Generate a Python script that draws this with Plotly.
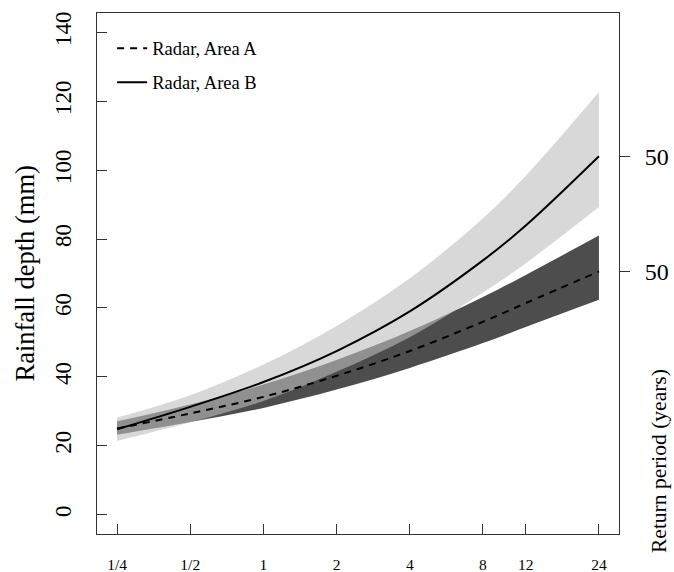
import math
import plotly.graph_objects as go

# ---- data ----
durations = [0.25, 0.5, 1, 2, 4, 8, 12, 24]
duration_labels = ["1/4", "1/2", "1", "2", "4", "8", "12", "24"]

# Radar, Area A (dashed line, dark band)
area_a_mid = [25.0, 29.4, 34.2, 40.3, 47.5, 56.0, 61.4, 70.6]
area_a_upper = [27.1, 32.0, 37.8, 44.9, 53.3, 63.2, 69.6, 81.0]
area_a_lower = [23.2, 26.9, 31.0, 36.3, 42.6, 49.8, 54.5, 62.4]

# Radar, Area B (solid line, light band)
area_b_mid = [24.8, 31.3, 38.5, 47.5, 59.0, 73.8, 83.9, 104.0]
area_b_upper = [28.2, 34.7, 43.6, 54.8, 68.6, 86.0, 98.4, 122.7]
area_b_lower = [21.4, 26.8, 33.0, 41.5, 51.5, 64.5, 73.0, 89.3]

y_ticks = [0, 20, 40, 60, 80, 100, 120, 140]
return_period_vals = [area_b_mid[-1], area_a_mid[-1]]
return_period_text = ["50", "50"]

FONT = "Liberation Serif, Times New Roman, serif"
AXC = "#333333"
DARK = "#4d4d4d"
LIGHT = "rgba(190,190,190,0.6)"

fig = go.Figure()

# Area A band
fig.add_trace(go.Scatter(x=durations, y=area_a_lower, mode="lines", line=dict(width=0, shape="spline"),
                         showlegend=False, hoverinfo="skip"))
fig.add_trace(go.Scatter(x=durations, y=area_a_upper, mode="lines", line=dict(width=0, shape="spline"),
                         fill="tonexty", fillcolor=DARK, showlegend=False, hoverinfo="skip"))
# Area B band
fig.add_trace(go.Scatter(x=durations, y=area_b_lower, mode="lines", line=dict(width=0, shape="spline"),
                         showlegend=False, hoverinfo="skip"))
fig.add_trace(go.Scatter(x=durations, y=area_b_upper, mode="lines", line=dict(width=0, shape="spline"),
                         fill="tonexty", fillcolor=LIGHT, showlegend=False, hoverinfo="skip"))

# Lines
fig.add_trace(go.Scatter(x=durations, y=area_a_mid, mode="lines", name="Radar, Area A",
                         legendgroup="a",
                         line=dict(color="black", width=2, dash="7px,6px", shape="spline")))
fig.add_trace(go.Scatter(x=durations, y=area_b_mid, mode="lines", name="Radar, Area B",
                         legendgroup="b",
                         line=dict(color="black", width=2, shape="spline")))
# right axis anchor trace
fig.add_trace(go.Scatter(x=[durations[0]], y=[area_b_mid[0]], yaxis="y2", mode="markers",
                         marker=dict(opacity=0), showlegend=False, hoverinfo="skip"))

xr = [math.log10(durations[0]) - 0.0825, math.log10(durations[-1]) + 0.0825]
yr = [-5.6, 145.6]

fig.update_layout(
    width=674, height=572,
    margin=dict(l=97, r=55, t=13, b=38, autoexpand=False),
    paper_bgcolor="white", plot_bgcolor="white",
    font=dict(family=FONT, color="black"),
    showlegend=True,
    legend=dict(x=0.029, y=0.968, xanchor="left", yanchor="top",
                font=dict(family=FONT, size=18.5, color="black"),
                bgcolor="rgba(0,0,0,0)", tracegroupgap=7),
    xaxis=dict(type="log", range=xr, tickvals=durations, ticktext=duration_labels,
               ticks="inside", ticklen=10, tickcolor=AXC, tickwidth=1.2,
               showline=True, linecolor=AXC, linewidth=1.3, mirror=True,
               showgrid=False, zeroline=False, automargin=False,
               tickfont=dict(family=FONT, size=15.5, color="black"),
               ticklabelstandoff=16),
    yaxis=dict(range=yr, tickvals=y_ticks, ticks="inside", ticklen=10, tickcolor=AXC, tickwidth=1.2,
               showline=True, linecolor=AXC, linewidth=1.3, mirror=True,
               showgrid=False, zeroline=False, tickangle=-90, automargin=False,
               tickfont=dict(family=FONT, size=23, color="black"),
               ticklabelstandoff=16),
    yaxis2=dict(range=yr, overlaying="y", side="right", tickvals=return_period_vals,
                ticktext=return_period_text, ticks="outside", ticklen=10, tickcolor=AXC, tickwidth=1.2,
                showline=False, showgrid=False, zeroline=False, automargin=False,
                tickfont=dict(family=FONT, size=24, color="black"),
                ticklabelstandoff=10),
    annotations=[
        dict(text="Rainfall depth (mm)", xref="paper", yref="paper", x=(24 - 97) / 522, y=0.5,
             xanchor="center", yanchor="middle", textangle=-90, showarrow=False,
             font=dict(family=FONT, size=26.5, color="black")),
        dict(text="Return period (years)", xref="paper", yref="paper", x=(659 - 97) / 522,
             y=(534 - 461) / 521, xanchor="center", yanchor="middle", textangle=-90, showarrow=False,
             font=dict(family=FONT, size=21.5, color="black")),
    ],
)

fig.write_html("out.html", config={"displayModeBar": False},
               post_script="document.body.style.margin='0';")
